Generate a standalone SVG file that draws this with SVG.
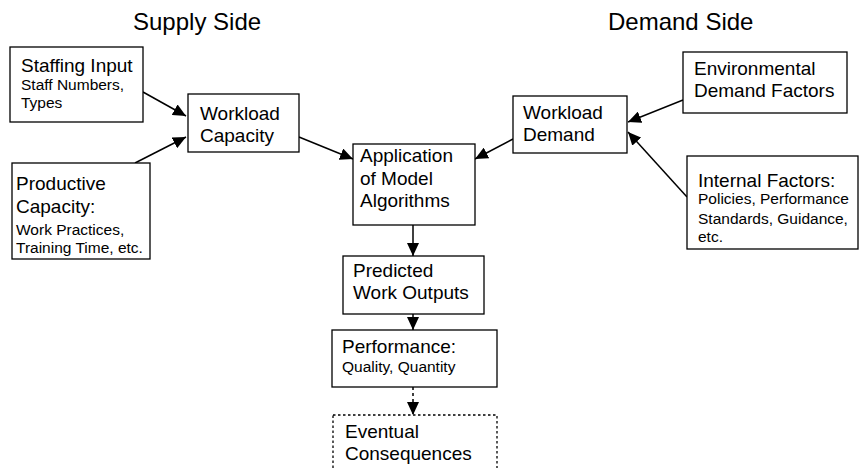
<svg xmlns="http://www.w3.org/2000/svg" width="859" height="468" viewBox="0 0 859 468">
<defs>
<style>
.box{fill:#fff;stroke:#000;stroke-width:1.3}
.dot{fill:#fff;stroke:#000;stroke-width:1.3;stroke-dasharray:2.5 2.5}
.t{font-family:"Liberation Sans",Arial,sans-serif;fill:#000}
.title{font-size:24px}
.m{font-size:19px}
.s{font-size:15.5px}
.c{stroke:#000;stroke-width:1.5;fill:none}
.cd{stroke:#000;stroke-width:1.5;fill:none;stroke-dasharray:3 3}
</style>
<marker id="ah" markerUnits="userSpaceOnUse" markerWidth="14" markerHeight="12" refX="13" refY="6" orient="auto">
<path d="M0,0 L13,6 L0,12 z" fill="#000"/>
</marker>
</defs>
<rect width="859" height="468" fill="#fff"/>
<g id="titles">
<text class="t title" x="133" y="30">Supply Side</text>
<text class="t title" x="608" y="30">Demand Side</text>
</g>
<g id="connectors">
<line class="c" x1="143" y1="92" x2="186" y2="116" marker-end="url(#ah)"/>
<line class="c" x1="135" y1="163" x2="186" y2="137" marker-end="url(#ah)"/>
<line class="c" x1="299" y1="137" x2="353" y2="159" marker-end="url(#ah)"/>
<line class="c" x1="513" y1="139" x2="475" y2="159" marker-end="url(#ah)"/>
<line class="c" x1="683" y1="100" x2="628" y2="122" marker-end="url(#ah)"/>
<line class="c" x1="687" y1="197" x2="628" y2="132" marker-end="url(#ah)"/>
<line class="c" x1="413" y1="225" x2="413" y2="256" marker-end="url(#ah)"/>
<line class="c" x1="413" y1="314" x2="413" y2="330" marker-end="url(#ah)"/>
<line class="cd" x1="413" y1="387" x2="413" y2="415" marker-end="url(#ah)"/>
</g>
<g id="staffing">
<rect class="box" x="10" y="47" width="133" height="75"/>
<text class="t m" x="21" y="72">Staffing Input</text>
<text class="t s" x="21" y="90">Staff Numbers,</text>
<text class="t s" x="21" y="108">Types</text>
</g>
<g id="productive">
<rect class="box" x="12" y="163" width="138" height="96"/>
<text class="t m" x="16" y="190">Productive</text>
<text class="t m" x="16" y="213">Capacity:</text>
<text class="t s" x="16" y="235">Work Practices,</text>
<text class="t s" x="16" y="253">Training Time, etc.</text>
</g>
<g id="workload-capacity">
<rect class="box" x="188" y="94" width="111" height="58"/>
<text class="t m" x="200" y="120">Workload</text>
<text class="t m" x="200" y="142">Capacity</text>
</g>
<g id="application">
<rect class="box" x="353" y="144" width="122" height="81"/>
<text class="t m" x="360" y="162">Application</text>
<text class="t m" x="360" y="185">of Model</text>
<text class="t m" x="360" y="207">Algorithms</text>
</g>
<g id="workload-demand">
<rect class="box" x="513" y="96" width="114" height="57"/>
<text class="t m" x="523" y="119">Workload</text>
<text class="t m" x="523" y="141">Demand</text>
</g>
<g id="environmental">
<rect class="box" x="683" y="52" width="164" height="61"/>
<text class="t m" x="694" y="75">Environmental</text>
<text class="t m" x="694" y="97">Demand Factors</text>
</g>
<g id="internal">
<rect class="box" x="687" y="156" width="171" height="93"/>
<text class="t m" x="698" y="187">Internal Factors:</text>
<text class="t s" x="698" y="204">Policies, Performance</text>
<text class="t s" x="698" y="224">Standards, Guidance,</text>
<text class="t s" x="698" y="242">etc.</text>
</g>
<g id="predicted">
<rect class="box" x="343" y="256" width="141" height="58"/>
<text class="t m" x="353" y="277">Predicted</text>
<text class="t m" x="353" y="299">Work Outputs</text>
</g>
<g id="performance">
<rect class="box" x="332" y="330" width="165" height="57"/>
<text class="t m" x="342" y="353">Performance:</text>
<text class="t s" x="342" y="372">Quality, Quantity</text>
</g>
<g id="eventual">
<rect class="dot" x="333" y="415" width="164" height="70"/>
<text class="t m" x="345" y="438">Eventual</text>
<text class="t m" x="345" y="460">Consequences</text>
</g>
</svg>
